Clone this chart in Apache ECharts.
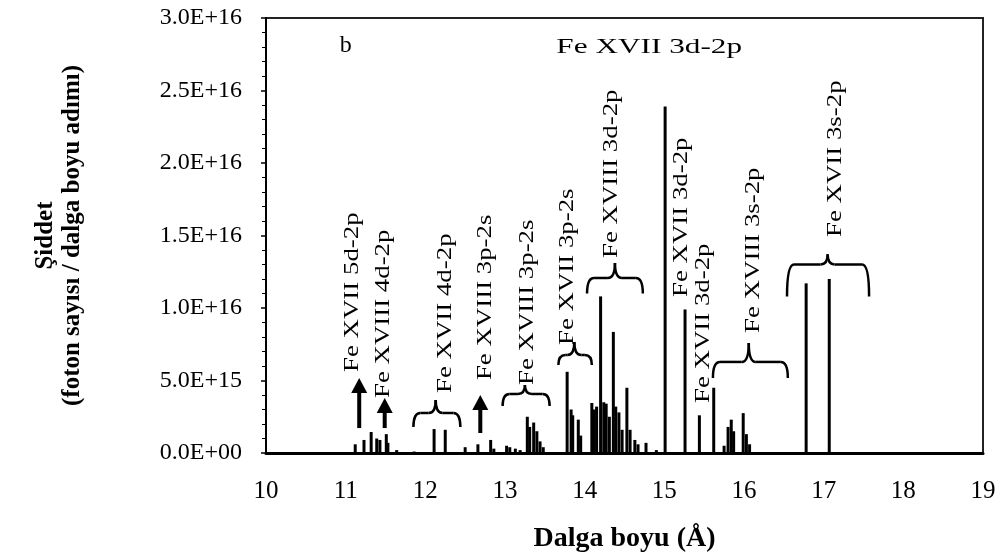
<!DOCTYPE html>
<html><head><meta charset="utf-8">
<script src="https://cdn.jsdelivr.net/npm/echarts@6/dist/echarts.min.js"></script>
<style>html,body{margin:0;padding:0;background:#fff}#c{width:1005px;height:558px}</style>
</head><body><div id="c"></div>
<script>
// ---- data ----
const wavelengths = [11.12,11.23,11.32,11.39,11.43,11.51,11.53,11.64,11.86,
  12.11,12.25,12.50,12.66,12.82,12.86,13.02,13.06,13.13,13.19,
  13.28,13.31,13.36,13.40,13.44,13.48,13.78,13.83,13.85,13.92,13.95,
  14.09,14.12,14.15,14.20,14.24,14.27,14.31,14.36,14.39,14.43,14.47,14.53,14.57,14.63,14.67,14.77,14.90,
  15.01,15.26,15.44,15.62,15.75,15.80,15.84,15.87,15.99,16.03,16.07,16.78,17.07];
const intensities = [6e14,9e14,1.45e15,1.0e15,9e14,1.3e15,7e14,2e14,1e14,
  1.65e15,1.6e15,4e14,6e14,9e14,3e14,5e14,4e14,3e14,2e14,
  2.5e15,1.8e15,2.1e15,1.5e15,8e14,4e14,5.6e15,3.0e15,2.6e15,2.3e15,1.2e15,
  3.45e15,3.0e15,3.2e15,1.08e16,3.5e15,3.4e15,2.5e15,8.35e15,3.2e15,2.8e15,1.6e15,4.5e15,1.6e15,9e14,6e14,7e14,2e14,
  2.39e16,9.9e15,2.6e15,4.5e15,5e14,1.8e15,2.3e15,1.5e15,2.75e15,1.3e15,6e14,1.17e16,1.20e16];
const xTickLabels = ['10','11','12','13','14','15','16','17','18','19'];
const yTickLabels = ['0.0E+00','5.0E+15','1.0E+16','1.5E+16','2.0E+16','2.5E+16','3.0E+16'];
const xTitle = 'Dalga boyu (Å)';
const yTitle = ['Şiddet', '(foton sayısı / dalga boyu adımı)'];

// ---- annotations (anchored in data coordinates; vertical labels anchored at their start) ----
const vLabelTexts = ['Fe XVII 5d-2p','Fe XVIII 4d-2p','Fe XVII 4d-2p','Fe XVIII 3p-2s','Fe XVIII 3p-2s',
  'Fe XVII 3p-2s','Fe XVIII 3d-2p','Fe XVII 3d-2p','Fe XVII 3d-2p','Fe XVIII 3s-2p','Fe XVII 3s-2p'];
const vLabelAt = [[11.08,5.59e15],[11.47,3.79e15],[12.25,4.14e15],[12.75,5.03e15],[13.28,4.69e15],
  [13.78,7.45e15],[14.33,1.345e16],[15.21,1.076e16],[15.49,3.45e15],[16.11,8.28e15],[17.15,1.49e16]];
const topLabelText = 'Fe XVII 3d-2p';
const topLabelAt = [14.81, 2.80e16];
const panelText = 'b';
const panelAt = [11.0, 2.81e16];
// arrows: [wavelength, tip value, base value]
const arrows = [[11.17,5.17e15,1.72e15],[11.49,3.79e15,1.72e15],[12.69,4.0e15,1.38e15]];
// braces: [x0, x1, tip x, end value, bar value, tip value]
const braces = [[11.85,12.44,12.13,1.79e15,2.76e15,3.66e15],
  [12.97,13.56,13.25,3.24e15,4.07e15,4.69e15],
  [13.67,14.09,13.87,6.07e15,6.76e15,7.66e15],
  [14.03,14.73,14.38,1.10e16,1.207e16,1.31e16],
  [15.61,16.55,16.06,5.17e15,6.28e15,7.59e15],
  [16.54,17.57,17.05,1.08e16,1.30e16,1.37e16]];

const chart = echarts.init(document.getElementById('c'), null, {renderer:'canvas'});
const serif = '"Liberation Serif","Times New Roman",serif';
chart.setOption({
  animation:false,
  backgroundColor:'#fff',
  grid:{left:266,right:22,top:18,bottom:105,show:true,borderColor:'#222',borderWidth:2},
  xAxis:{type:'value',min:10,max:19,interval:1,
    axisLine:{show:true,onZero:false,lineStyle:{color:'#000',width:3}},
    axisTick:{show:false},splitLine:{show:false},
    axisLabel:{margin:26,color:'#000',fontFamily:serif,fontSize:25,
      formatter:v=>xTickLabels[Math.round(v-10)]},
    name:xTitle,nameLocation:'middle',nameGap:72,
    nameTextStyle:{color:'#000',fontFamily:serif,fontWeight:'bold',fontSize:28}},
  yAxis:{type:'value',min:0,max:3e16,interval:5e15,
    axisLine:{show:true,lineStyle:{color:'#000',width:2}},
    axisTick:{show:true,length:5,lineStyle:{color:'#000',width:1.5}},
    minorTick:{show:true,splitNumber:5,length:4,lineStyle:{color:'#000',width:1}},
    splitLine:{show:false},
    axisLabel:{margin:24,color:'#000',fontFamily:serif,fontSize:24,
      formatter:v=>yTickLabels[Math.round(v/5e15)]},
    name:yTitle.join('\n'),nameLocation:'middle',nameGap:180,
    nameTextStyle:{color:'#000',fontFamily:serif,fontWeight:'bold',fontSize:25,lineHeight:27,align:'center'}},
  series:[{type:'bar',barWidth:3,itemStyle:{color:'#000'},
    data:wavelengths.map((w,i)=>[w,intensities[i]])}]
});

function drawAnnotations(){
  const P = d => chart.convertToPixel({gridIndex:0}, d);
  const els = [];
  vLabelTexts.forEach((t,i)=>{
    const p = P(vLabelAt[i]);
    els.push({type:'text',x:p[0],y:p[1],rotation:Math.PI/2,scaleX:1.22,
      style:{text:t,font:'22px '+serif,fill:'#000',align:'left',verticalAlign:'middle'}});
  });
  let p = P(topLabelAt);
  els.push({type:'text',x:p[0],y:p[1],scaleX:1.42,
    style:{text:topLabelText,font:'22px '+serif,fill:'#000',align:'center',verticalAlign:'middle'}});
  p = P(panelAt);
  els.push({type:'text',x:p[0],y:p[1],
    style:{text:panelText,font:'24px '+serif,fill:'#000',align:'center',verticalAlign:'middle'}});
  arrows.forEach(a=>{
    const tip = P([a[0],a[1]]), base = P([a[0],a[2]]);
    els.push({type:'line',shape:{x1:tip[0],y1:base[1],x2:tip[0],y2:tip[1]+12},style:{stroke:'#000',lineWidth:4}});
    els.push({type:'polygon',shape:{points:[[tip[0]-8,tip[1]+15],[tip[0]+8,tip[1]+15],[tip[0],tip[1]]]},style:{fill:'#000'}});
  });
  const bs = {stroke:'#000',lineWidth:2.5,fill:null};
  braces.forEach(b=>{
    const l = P([b[0],b[3]]), r = P([b[1],b[3]]), t = P([b[2],b[5]]), bar = P([b[0],b[4]]);
    const yb = bar[1], rr = 7;
    els.push({type:'bezierCurve',shape:{x1:l[0],y1:l[1],cpx1:l[0],cpy1:yb,x2:l[0]+rr,y2:yb},style:bs});
    els.push({type:'line',shape:{x1:l[0]+rr,y1:yb,x2:t[0]-rr,y2:yb},style:bs});
    els.push({type:'bezierCurve',shape:{x1:t[0]-rr,y1:yb,cpx1:t[0],cpy1:yb,x2:t[0],y2:t[1]},style:bs});
    els.push({type:'bezierCurve',shape:{x1:t[0],y1:t[1],cpx1:t[0],cpy1:yb,x2:t[0]+rr,y2:yb},style:bs});
    els.push({type:'line',shape:{x1:t[0]+rr,y1:yb,x2:r[0]-rr,y2:yb},style:bs});
    els.push({type:'bezierCurve',shape:{x1:r[0]-rr,y1:yb,cpx1:r[0],cpy1:yb,x2:r[0],y2:r[1]},style:bs});
  });
  chart.setOption({graphic:els});
}
drawAnnotations();
</script></body></html>
